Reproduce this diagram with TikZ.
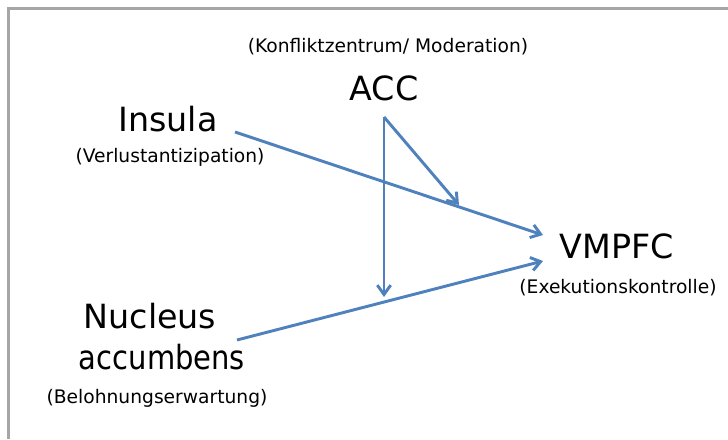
\documentclass[tikz,border=0pt]{standalone}
\usepackage{fontspec}
\setmainfont{DejaVu Sans}
\usetikzlibrary{arrows.meta}

\definecolor{linkblue}{HTML}{4F81BD}
\definecolor{framegray}{HTML}{A6A6A6}

\tikzset{
  region/.style={font=\fontsize{25}{28}\selectfont, inner sep=0pt},
  role/.style={font=\fontsize{14}{16}\selectfont, inner sep=0pt},
  link/.style={linkblue, line width=2.2pt, -{Straight Barb[length=7pt,width=10pt]}}
}

\begin{document}
\begin{tikzpicture}[x=0.75pt, y=-0.75pt]
                \useasboundingbox (0,0) rectangle (728,439);
                % Draw the frame (top and left edge only)
                \draw[framegray, line width=2.25pt] (8.5,439) -- (8.5,8.5) -- (728,8.5);

                % Add the regions with their roles
                \node[role] (konflikt) at (388,47) {(Konfliktzentrum/ Moderation)};
                \node[region] (acc) at (384,88) {ACC};
                \node[region] (insula) at (168,119) {Insula};
                \node[role] (verlust) at (170,157) {(Verlustantizipation)};
                \node[region] (vmpfc) at (617,246) {VMPFC};
                \node[role] (exekution) at (618,288) {(Exekutionskontrolle)};
                \node[region] (nucleus) at (150,316) {Nucleus};
                \node[region] (accumbens) at (162,357) {\scalebox{0.87}[1]{accumbens}};
                \node[role] (belohnung) at (157,398) {(Belohnungserwartung)};

                % Start and end points of the arrows
                \coordinate (insulaout) at (235,132);
                \coordinate (nucleusout) at (237,340);
                \coordinate (accout) at (384,117);
                \coordinate (vmpfcin1) at (543,235);
                \coordinate (vmpfcin2) at (543,261);
                \coordinate (accdown) at (384,297);
                \coordinate (accdiag) at (459,205);

                % Draw the arrows
                \draw[link] (insulaout) -- (vmpfcin1);
                \draw[link] (nucleusout) -- (vmpfcin2);
                \draw[link] (accout) -- (accdown);
                \draw[link] (accout) -- (accdiag);
            \end{tikzpicture}
\end{document}
